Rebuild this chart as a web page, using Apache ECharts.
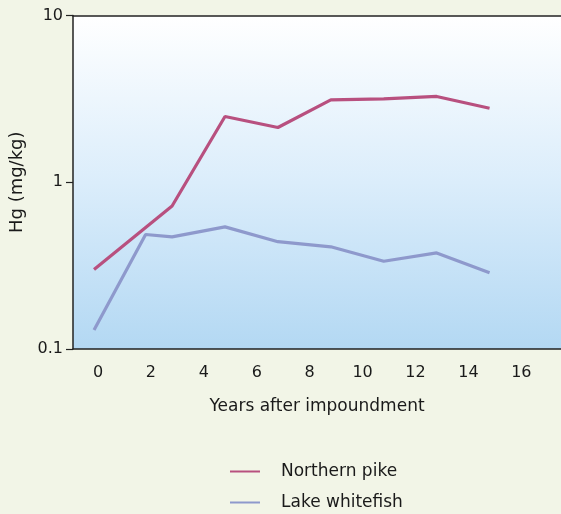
<!DOCTYPE html>
<html>
<head>
<meta charset="utf-8">
<script src="https://cdn.jsdelivr.net/npm/echarts@6/dist/echarts.min.js"></script>
<style>
html,body{margin:0;padding:0;background:#f2f5e7;}
#c{width:561px;height:514px;}
</style>
</head>
<body>
<div id="c"></div>
<script>
const xTickLabels = [0, 2, 4, 6, 8, 10, 12, 14, 16];
const yTickLabels = [0.1, 1, 10];
const pikeYears = [-0.15, 2.8, 4.8, 6.8, 8.8, 10.8, 12.8, 14.8];
const pikeHg = [0.30, 0.72, 2.48, 2.13, 3.12, 3.16, 3.27, 2.78];
const whitefishYears = [-0.15, 1.8, 2.8, 4.8, 6.8, 8.8, 10.8, 12.8, 14.8];
const whitefishHg = [0.13, 0.486, 0.47, 0.54, 0.44, 0.41, 0.336, 0.377, 0.287];
const seriesNames = ['Northern pike', 'Lake whitefish'];
const colors = ['#b8507f', '#8e99cc'];

const font = 'DejaVu Sans';
const chart = echarts.init(document.getElementById('c'));
const xMin = -0.945, xMax = 17.5;
const legendBase = {
  show: true, orient: 'vertical', left: 230, padding: 0,
  itemWidth: 30, itemHeight: 2, icon: 'rect',
  textStyle: {fontFamily: font, fontSize: 17, color: '#1a1a1a', padding: [0, 0, 0, 16]}
};
chart.setOption({
  backgroundColor: '#f2f5e7',
  animation: false,
  grid: {
    left: 73, right: 0, top: 15.5, bottom: 165,
    show: true, borderWidth: 0,
    backgroundColor: new echarts.graphic.LinearGradient(0, 0, 0, 1, [
      {offset: 0, color: '#ffffff'},
      {offset: 0.5, color: '#dbedfb'},
      {offset: 1, color: '#b3d8f3'}
    ])
  },
  legend: [
    Object.assign({}, legendBase, {top: 463, data: [seriesNames[0]]}),
    Object.assign({}, legendBase, {top: 494, data: [seriesNames[1]]})
  ],
  xAxis: [{
    type: 'value', min: xMin, max: xMax,
    name: 'Years after impoundment', nameLocation: 'middle', nameGap: 49,
    nameTextStyle: {fontFamily: font, fontSize: 17, color: '#1a1a1a'},
    axisLine: {show: true, onZero: false, lineStyle: {color: '#222', width: 1.5}},
    axisTick: {show: false},
    splitLine: {show: false},
    axisLabel: {customValues: xTickLabels, fontFamily: font, fontSize: 16, color: '#1a1a1a', margin: 16,
      formatter: v => String(v)}
  }, {
    type: 'value', min: xMin, max: xMax, position: 'top',
    axisLine: {show: true, onZero: false, lineStyle: {color: '#222', width: 1.5}},
    axisTick: {show: false}, axisLabel: {show: false}, splitLine: {show: false}
  }],
  yAxis: {
    type: 'log', logBase: 10, min: 0.1, max: 10,
    name: 'Hg (mg/kg)', nameLocation: 'middle', nameGap: 34,
    nameTextStyle: {fontFamily: font, fontSize: 18, color: '#1a1a1a'},
    axisLine: {show: true, onZero: false, lineStyle: {color: '#222', width: 1.5}},
    axisTick: {show: true, length: 7, lineStyle: {color: '#222', width: 1.2}},
    splitLine: {show: false},
    axisLabel: {customValues: yTickLabels, fontFamily: font, fontSize: 16, color: '#1a1a1a', margin: 10,
      formatter: v => String(v)}
  },
  series: [{
    name: seriesNames[0], type: 'line', symbol: 'none',
    data: pikeYears.map((x, i) => [x, pikeHg[i]]),
    lineStyle: {color: colors[0], width: 3.2}, itemStyle: {color: colors[0]}
  }, {
    name: seriesNames[1], type: 'line', symbol: 'none',
    data: whitefishYears.map((x, i) => [x, whitefishHg[i]]),
    lineStyle: {color: colors[1], width: 3.2}, itemStyle: {color: colors[1]}
  }]
});
</script>
</body>
</html>
